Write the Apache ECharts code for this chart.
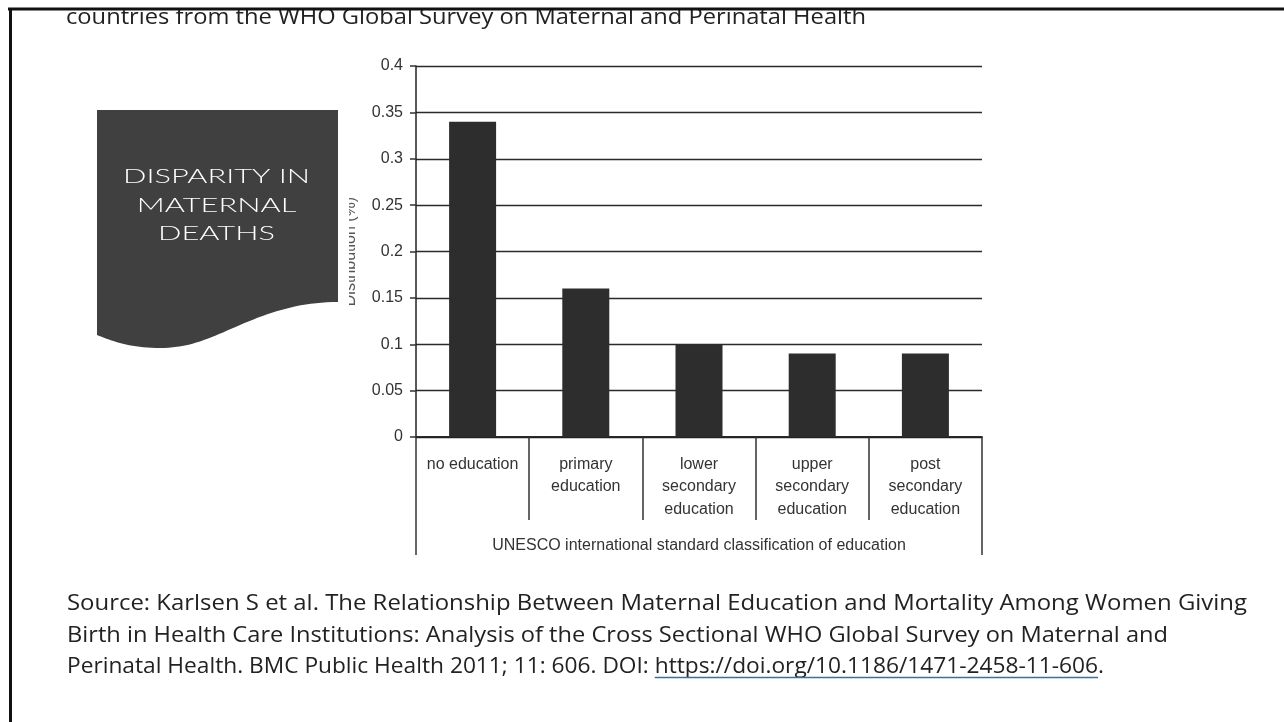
<!DOCTYPE html>
<html>
<head>
<meta charset="utf-8">
<script src="https://cdn.jsdelivr.net/npm/echarts@6/dist/echarts.min.js"></script>
<style>html,body{margin:0;padding:0;background:#fff}#c{width:1284px;height:722px}</style>
</head>
<body>
<div id="c"></div>
<script>
const categories = ['no education', 'primary\neducation', 'lower\nsecondary\neducation', 'upper\nsecondary\neducation', 'post\nsecondary\neducation'];
const values = [0.34, 0.16, 0.10, 0.09, 0.09];
const groupLabel = ['UNESCO international standard classification of education'];
const yMin = 0, yMax = 0.4, yInterval = 0.05;
const yName = 'Distribution (%)';
const titleText = 'countries from the WHO Global Survey on Maternal and Perinatal Health';
const boxLines = ['DISPARITY IN', 'MATERNAL', 'DEATHS'];
const sourceLine1 = 'Source: Karlsen S et al. The Relationship Between Maternal Education and Mortality Among Women Giving';
const sourceLine2 = 'Birth in Health Care Institutions: Analysis of the Cross Sectional WHO Global Survey on Maternal and';
const sourceLine3a = 'Perinatal Health. BMC Public Health 2011; 11: 606. DOI: ';
const sourceLink = 'https://doi.org/10.1186/1471-2458-11-606';
const sourceLine3b = '.';

const ctx = document.createElement('canvas').getContext('2d');
function measure(t, font) { ctx.font = font; return ctx.measureText(t).width; }

const srcFontSize = 21, srcFamily = "'Open Sans'";
const srcFont = srcFontSize + 'px ' + srcFamily;
const srcScale1 = 1180 / measure(sourceLine1, srcFont);
const srcScale2 = 1101 / measure(sourceLine2, srcFont);
const srcScale3 = 1037 / measure(sourceLine3a + sourceLink + sourceLine3b, srcFont);
const titleScale = 800 / measure(titleText, srcFont);
const boxFont = "300 20px Lato";
const boxScale = 187 / measure(boxLines[0], boxFont);

const srcX = 67;
const w3a = measure(sourceLine3a, srcFont) * srcScale3;
const wLink = measure(sourceLink, srcFont) * srcScale3;

// wavy-bottom box outline, sampled from cubic curves
function cubic(p0, p1, p2, p3, n) {
  const pts = [];
  for (let i = 1; i <= n; i++) {
    const t = i / n, u = 1 - t;
    pts.push([
      u*u*u*p0[0] + 3*u*u*t*p1[0] + 3*u*t*t*p2[0] + t*t*t*p3[0],
      u*u*u*p0[1] + 3*u*u*t*p1[1] + 3*u*t*t*p2[1] + t*t*t*p3[1]
    ]);
  }
  return pts;
}
const boxPts = [[97, 110], [338, 110], [338, 302]]
  .concat(cubic([338, 302], [300, 302], [270, 312], [240, 325], 20))
  .concat(cubic([240, 325], [210, 338], [190, 348], [160, 348], 20))
  .concat(cubic([160, 348], [130, 348], [112, 341], [97, 335], 20));

const graphics = [];
graphics.push({ type: 'polygon', z: 50, shape: { points: boxPts }, style: { fill: '#404040' } });
boxLines.forEach((t, i) => {
  graphics.push({
    type: 'text', z: 51, x: 216.5, y: 177 + i * 28.5, scaleX: boxScale,
    style: { text: t, font: boxFont, fill: '#ffffff', align: 'center', verticalAlign: 'middle' }
  });
});
// partially hide y-axis name (covered in reference)
graphics.push({ type: 'rect', z: 40, shape: { x: 339, y: 180, width: 10, height: 145 }, style: { fill: '#ffffff' } });
// title (clipped at top)
graphics.push({
  type: 'text', z: 60, x: 66, y: 18.5, scaleX: titleScale,
  style: { text: titleText, font: srcFont, fill: '#222', align: 'left', verticalAlign: 'middle' }
});
graphics.push({ type: 'rect', z: 61, shape: { x: 0, y: 0, width: 1284, height: 8 }, style: { fill: '#ffffff' } });
graphics.push({ type: 'line', z: 62, shape: { x1: 8, y1: 9, x2: 1284, y2: 9 }, style: { stroke: '#111', lineWidth: 3 } });
graphics.push({ type: 'line', z: 62, shape: { x1: 10.5, y1: 8, x2: 10.5, y2: 722 }, style: { stroke: '#111', lineWidth: 3 } });
// source text
graphics.push({
  type: 'text', z: 60, x: srcX, y: 604.5, scaleX: srcScale1,
  style: { text: sourceLine1, font: srcFont, fill: '#222', align: 'left', verticalAlign: 'middle' }
});
graphics.push({
  type: 'text', z: 60, x: srcX, y: 636, scaleX: srcScale2,
  style: { text: sourceLine2, font: srcFont, fill: '#222', align: 'left', verticalAlign: 'middle' }
});
graphics.push({
  type: 'text', z: 60, x: srcX, y: 667.5, scaleX: srcScale3,
  style: {
    text: '{a|' + sourceLine3a + '}{l|' + sourceLink + '}{a|' + sourceLine3b + '}',
    font: srcFont, fill: '#222', align: 'left', verticalAlign: 'middle',
    rich: {
      a: { fontSize: srcFontSize, fontFamily: 'Open Sans', color: '#222' },
      l: { fontSize: srcFontSize, fontFamily: 'Open Sans', color: '#2e74b5' }
    }
  }
});
graphics.push({ type: 'line', z: 60, shape: { x1: srcX + w3a, y1: 677.5, x2: srcX + w3a + wLink, y2: 677.5 }, style: { stroke: '#2e74b5', lineWidth: 1.3 } });

const axisFont = "'Liberation Sans', Arial, sans-serif";
const chart = echarts.init(document.getElementById('c'), null, { renderer: 'canvas' });
chart.setOption({
  animation: false,
  backgroundColor: '#ffffff',
  grid: { left: 416, right: 302, top: 66, bottom: 285, containLabel: false },
  xAxis: [
    {
      type: 'category', data: categories, position: 'bottom', offset: 0,
      axisLine: { show: true, lineStyle: { color: '#222', width: 1.5 } },
      axisTick: { show: true, interval: 0, length: 83, lineStyle: { color: '#333', width: 1.5 } },
      axisLabel: { interval: 0, margin: 16, fontSize: 16, lineHeight: 22.5, color: '#333', fontFamily: axisFont },
      splitLine: { show: false }
    },
    {
      type: 'category', data: groupLabel, position: 'bottom', offset: 0,
      axisLine: { show: true, lineStyle: { color: '#222', width: 1.5 } },
      axisTick: { show: true, interval: 0, length: 118, lineStyle: { color: '#333', width: 1.5 } },
      axisLabel: { interval: 0, margin: 97, fontSize: 16, lineHeight: 22.5, color: '#333', fontFamily: axisFont },
      splitLine: { show: false }
    }
  ],
  yAxis: {
    type: 'value', min: yMin, max: yMax, interval: yInterval,
    name: yName, nameLocation: 'middle', nameGap: 57, nameRotate: 90,
    nameTextStyle: { fontSize: 16, color: '#555', fontFamily: axisFont },
    axisLine: { show: true, lineStyle: { color: '#222', width: 1.5 } },
    axisTick: { show: true, length: 6, lineStyle: { color: '#333', width: 1.5 } },
    axisLabel: { margin: 13, fontSize: 16, color: '#333', fontFamily: axisFont },
    splitLine: { show: true, lineStyle: { color: '#2a2a2a', width: 1.3 } }
  },
  series: [{
    type: 'bar', data: values, xAxisIndex: 0, yAxisIndex: 0, barWidth: 47,
    itemStyle: { color: '#2d2d2d' }
  }],
  graphic: graphics
});
</script>
</body>
</html>
